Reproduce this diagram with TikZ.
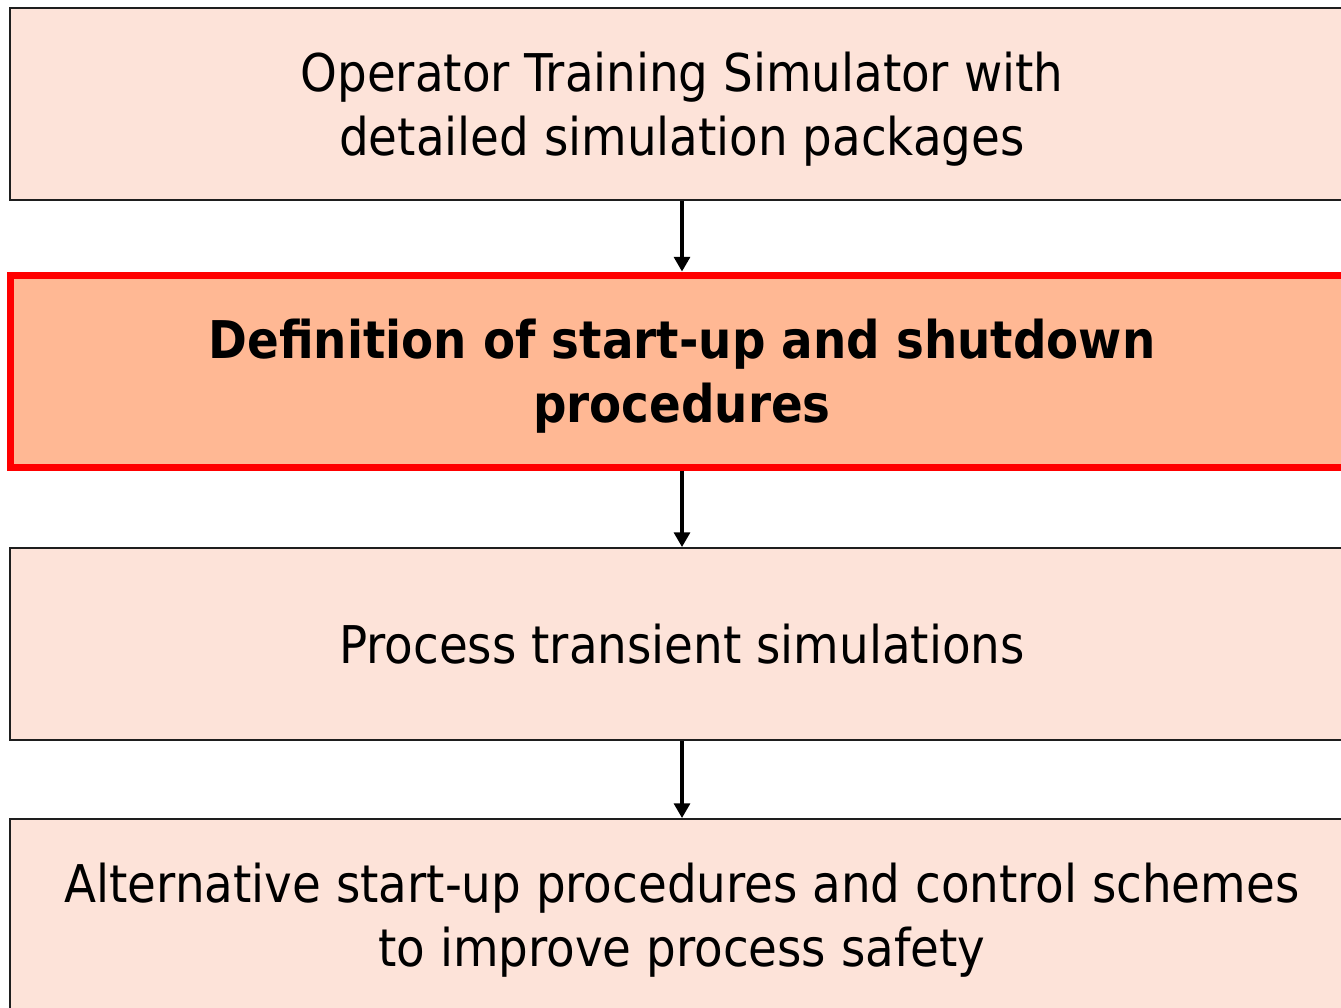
\documentclass[tikz,border=0pt]{standalone}
\usepackage{fontspec}
\setmainfont{DejaVu Sans Condensed}
\usetikzlibrary{arrows.meta}
\definecolor{paleFill}{RGB}{253,227,217}
\definecolor{peachFill}{RGB}{255,184,148}
\definecolor{edgeGray}{RGB}{30,30,30}
\begin{document}
\begin{tikzpicture}[x=0.75pt,y=-0.75pt,
  stage/.style={draw=edgeGray,line width=1.5pt,fill=paleFill,
    minimum width=1008pt,minimum height=144pt,inner sep=0pt,
    align=center,font=\fontsize{39}{48}\selectfont},
  twoline/.style={text depth=0pt},
  keystage/.style={stage,draw=red,line width=5.25pt,fill=peachFill,
    font=\bfseries\fontsize{39}{48}\selectfont},
  flow/.style={line width=2.4pt,-{Triangle[width=12pt,length=11pt]}}]
\useasboundingbox (0,0) rectangle (1341,1007);
\clip (0,0) rectangle (1341,1007);
\node[stage,twoline] (b1) at (682,103.5) {Operator Training Simulator with\\detailed simulation packages};
\node[keystage,twoline] (b2) at (682,371) {Definition of start-up and shutdown\\procedures};
\node[stage] (b3) at (682,644) {Process transient simulations};
\node[stage,twoline] (b4) at (682,915) {Alternative start-up procedures and control schemes\\to improve process safety};
\draw[flow] (b1.south) -- (b2.north);
\draw[flow] (b2.south) -- (b3.north);
\draw[flow] (b3.south) -- (b4.north);
\end{tikzpicture}
\end{document}
